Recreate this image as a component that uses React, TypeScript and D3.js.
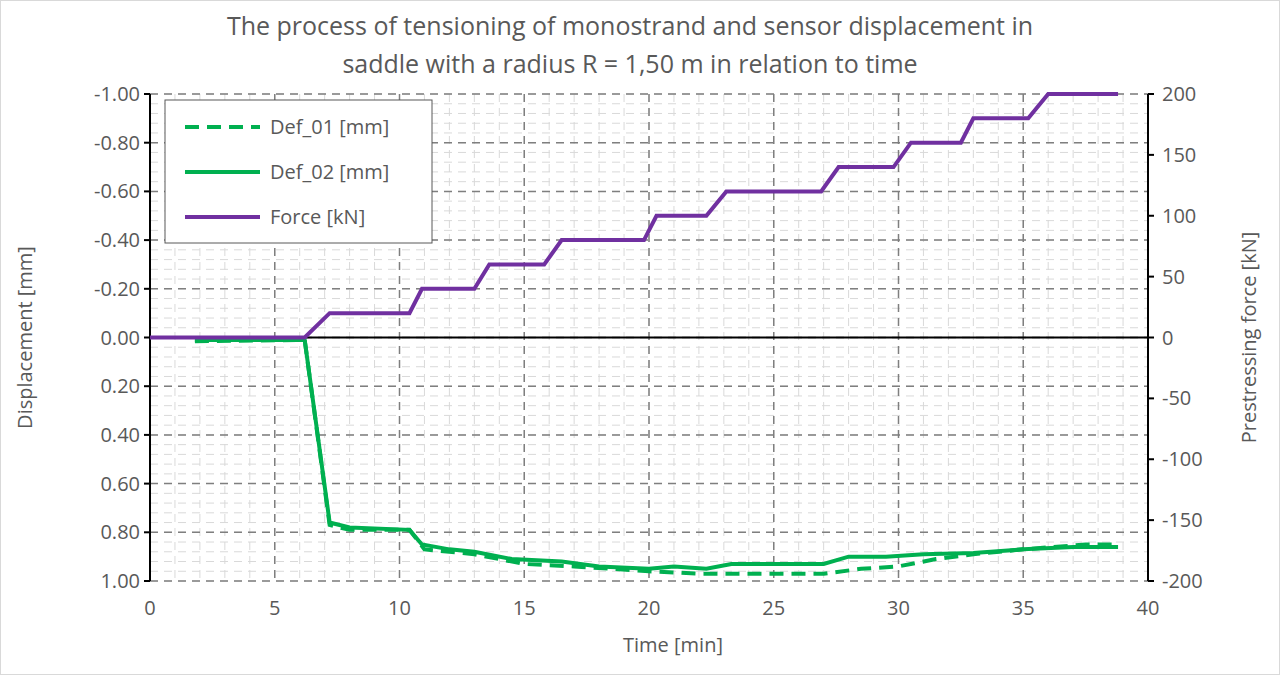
import React from "react";
import * as d3 from "d3";

const forceT = [0, 6.2, 7.2, 10.4, 10.9, 13.0, 13.6, 15.8, 16.5, 19.8, 20.3, 22.3, 23.1, 26.9, 27.6, 29.8, 30.5, 32.5, 33.0, 35.2, 36.0, 38.8];
const forceV = [0, 0, 20, 20, 40, 40, 60, 60, 80, 80, 100, 100, 120, 120, 140, 140, 160, 160, 180, 180, 200, 200];
const def02T = [1.8, 6.2, 7.2, 8, 10.4, 10.9, 12, 13, 14.5, 16.5, 18, 20, 21, 22.3, 23.3, 27, 28, 29.5, 31, 33, 35, 37, 38.8];
const def02V = [0.01, 0.01, 0.76, 0.78, 0.79, 0.85, 0.87, 0.88, 0.91, 0.92, 0.94, 0.95, 0.94, 0.95, 0.93, 0.93, 0.9, 0.9, 0.89, 0.885, 0.87, 0.86, 0.86];
const def01T = [1.8, 6.2, 7.2, 8, 10.4, 11, 13, 15, 17, 20, 22, 27, 28.5, 30, 31.5, 33, 35, 37.5, 38.8];
const def01V = [0.015, 0.01, 0.77, 0.79, 0.79, 0.87, 0.89, 0.93, 0.94, 0.96, 0.97, 0.97, 0.95, 0.94, 0.91, 0.89, 0.87, 0.85, 0.85];
const xTicks = [0, 5, 10, 15, 20, 25, 30, 35, 40];
const yTicks = [-1, -0.8, -0.6, -0.4, -0.2, 0, 0.2, 0.4, 0.6, 0.8, 1];
const y2Ticks = [200, 150, 100, 50, 0, -50, -100, -150, -200];

export default function App() {
  const L = 150, R = 1148, T = 94, B = 581;
  const x = d3.scaleLinear().domain([0, 40]).range([L, R]);
  const y = d3.scaleLinear().domain([-1, 1]).range([T, B]);
  const y2 = d3.scaleLinear().domain([200, -200]).range([T, B]);
  const line = d3.line<[number, number]>().x(d => x(d[0])).y(d => y(d[1]));
  const fline = d3.line<[number, number]>().x(d => x(d[0])).y(d => y2(d[1]));
  const font = "'Open Sans', 'Noto Sans', sans-serif";
  const tc = "#595959";
  const minorX = d3.range(0, 41, 1);
  const minorY = d3.range(-1, 1.0001, 0.04);
  const green = "#00b050", purple = "#7030a0";
  return (
    <svg width={1280} height={675} style={{ position: "absolute", left: 0, top: 0 }} fontFamily={font}>
      <rect x={0.5} y={0.5} width={1279} height={674} fill="white" stroke="#d9d9d9" />
      <text x={630} y={35} textAnchor="middle" fontSize={25} fill={tc}>The process of tensioning of monostrand and sensor displacement in</text>
      <text x={630} y={73} textAnchor="middle" fontSize={25} fill={tc}>saddle with a radius R = 1,50 m in relation to time</text>
      {minorX.map(v => <line key={"mx" + v} x1={x(v)} x2={x(v)} y1={T} y2={B} stroke="#d9d9d9" strokeDasharray="8,6" />)}
      {minorY.map((v, i) => <line key={"my" + i} x1={L} x2={R} y1={y(v)} y2={y(v)} stroke="#d9d9d9" strokeDasharray="8,6" />)}
      {xTicks.map(v => <line key={"gx" + v} x1={x(v)} x2={x(v)} y1={T} y2={B} stroke="#7f7f7f" strokeWidth={1.5} strokeDasharray="8,6" />)}
      {yTicks.map(v => <line key={"gy" + v} x1={L} x2={R} y1={y(v)} y2={y(v)} stroke="#7f7f7f" strokeWidth={1.5} strokeDasharray="8,6" />)}
      <line x1={L} x2={R} y1={y(0)} y2={y(0)} stroke="black" strokeWidth={2} />
      <line x1={L} x2={L} y1={T} y2={B} stroke="black" strokeWidth={2} />
      <line x1={R} x2={R} y1={T} y2={B} stroke="black" strokeWidth={2} />
      {yTicks.map(v => <g key={"ty" + v}>
        <line x1={L - 6} x2={L} y1={y(v)} y2={y(v)} stroke="black" strokeWidth={2} />
        <text x={L - 10} y={y(v) + 7} textAnchor="end" fontSize={20} fill={tc}>{v.toFixed(2)}</text>
      </g>)}
      {y2Ticks.map(v => <g key={"t2" + v}>
        <line x1={R} x2={R + 6} y1={y2(v)} y2={y2(v)} stroke="black" strokeWidth={2} />
        <text x={R + 14} y={y2(v) + 7} textAnchor="start" fontSize={20} fill={tc}>{v}</text>
      </g>)}
      {xTicks.map(v => <text key={"tx" + v} x={x(v)} y={B + 34} textAnchor="middle" fontSize={20} fill={tc}>{v}</text>)}
      <text x={673} y={652} textAnchor="middle" fontSize={20} fill={tc}>Time [min]</text>
      <text transform={`translate(32,${(T + B) / 2}) rotate(-90)`} textAnchor="middle" fontSize={20} fill={tc}>Displacement [mm]</text>
      <text transform={`translate(1256,${(T + B) / 2}) rotate(-90)`} textAnchor="middle" fontSize={20} fill={tc}>Prestressing force [kN]</text>
      <path d={line(def01T.map((t, i) => [t, def01V[i]]))!} fill="none" stroke={green} strokeWidth={4} strokeDasharray="14,8" />
      <path d={line(def02T.map((t, i) => [t, def02V[i]]))!} fill="none" stroke={green} strokeWidth={4} />
      <path d={fline(forceT.map((t, i) => [t, forceV[i]]))!} fill="none" stroke={purple} strokeWidth={4} />
      <rect x={165} y={100} width={267} height={143} fill="white" stroke="#595959" />
      {[["Def_01 [mm]", green, "14,8"], ["Def_02 [mm]", green, ""], ["Force [kN]", purple, ""]].map((d, i) => (
        <g key={d[0]}>
          <line x1={185} x2={260} y1={127 + i * 45} y2={127 + i * 45} stroke={d[1]} strokeWidth={4} strokeDasharray={d[2] || undefined} />
          <text x={270} y={134 + i * 45} fontSize={20} fill={tc}>{d[0]}</text>
        </g>
      ))}
    </svg>
  );
}
